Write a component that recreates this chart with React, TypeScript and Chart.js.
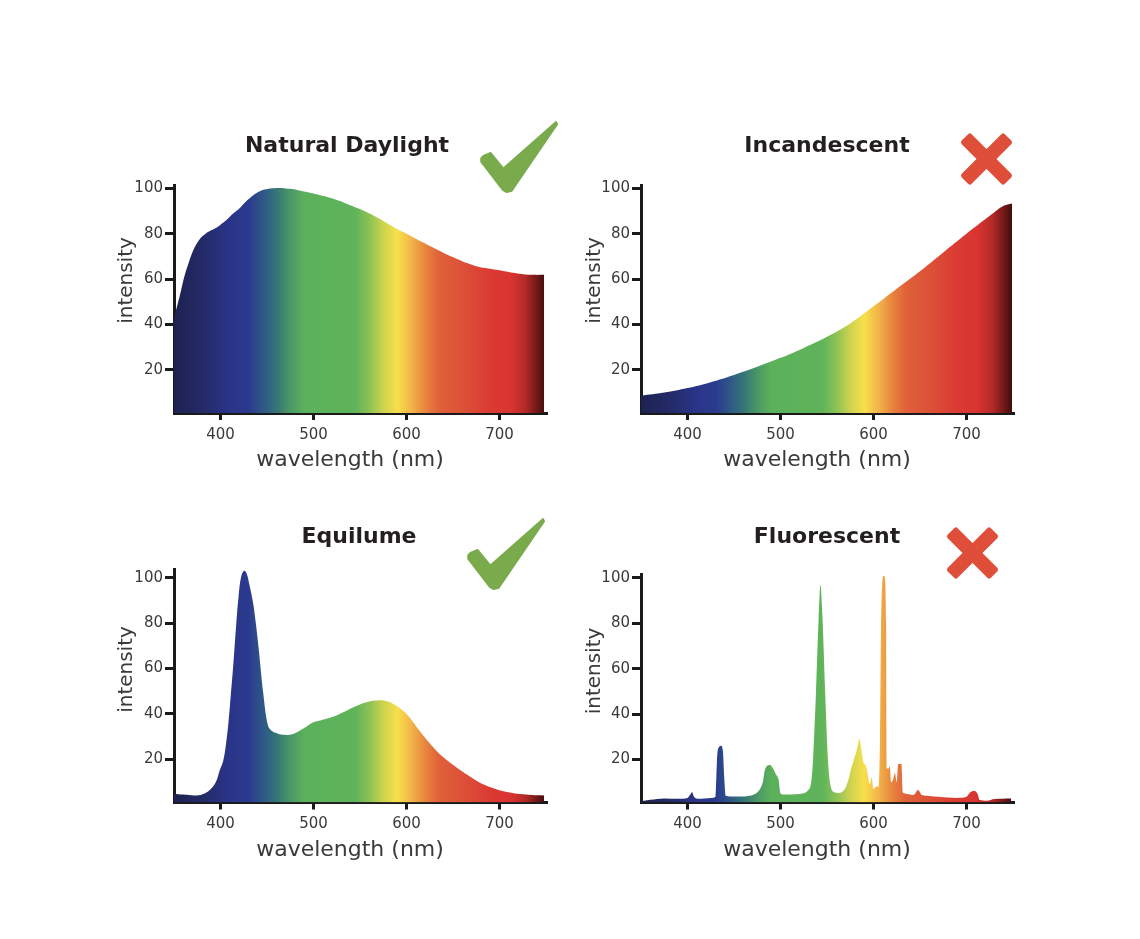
import React, { useEffect, useRef } from 'react';
import { Chart, registerables } from 'chart.js';

Chart.register(...registerables);

// ---------- tick labels ----------
const xTickValues = [400, 500, 600, 700];
const yTickValues = [20, 40, 60, 80, 100];

// ---------- Natural Daylight ----------
const daylightNm = [350, 352, 357, 361, 366, 371, 378, 384, 389, 395, 400, 407, 414, 420, 425, 431, 436, 441, 446, 452, 457, 463, 468, 477, 486, 500, 511, 522, 533, 543, 554, 565, 576, 586, 593, 600, 611, 622, 633, 644, 655, 665, 676, 688, 700, 710, 719, 728, 737, 748];
const daylightIntensity = [43, 46, 54, 61, 67.5, 73, 77.8, 80, 81.3, 82.5, 84, 86.3, 89, 91, 93.2, 95.5, 97.2, 98.5, 99.4, 99.9, 100.1, 100.2, 100.1, 99.7, 99, 97.8, 96.6, 95.3, 93.7, 92, 90.1, 87.9, 85.4, 83, 81.4, 80, 77.6, 75.3, 73, 70.8, 68.8, 67.1, 65.6, 64.7, 63.9, 63.1, 62.5, 62.1, 61.9, 61.9];

// ---------- Incandescent ----------
const incandescentNm = [350, 375, 400, 425, 450, 475, 500, 525, 550, 575, 600, 625, 650, 675, 700, 725, 740, 749];
const incandescentIntensity = [8.6, 10, 12, 14.6, 17.8, 21.4, 25.3, 29.7, 34.6, 40.5, 48, 55.8, 63.5, 71.8, 80, 87.9, 92.3, 93.4];

// ---------- Equilume ----------
const equilumeNm = [350, 360, 374, 383, 389, 395, 399, 403, 406, 408.5, 411, 414, 417, 419.5, 422, 425, 428, 431, 435, 438, 441, 446, 451, 455, 460, 467, 478, 490, 500, 510, 521, 532, 543, 557, 571, 580, 586, 593, 600, 607, 614, 621, 629, 637, 647, 656, 665, 674, 683, 692, 700, 711, 722, 735, 748];
const equilumeIntensity = [4.9, 4.5, 4.1, 5, 6.7, 10, 15, 19.5, 27, 36, 48, 63, 80, 92, 100, 103, 102, 97, 89, 80, 69, 49, 35, 32.6, 31.6, 30.8, 31.2, 33.8, 36.3, 37.5, 38.8, 40.8, 43, 45.2, 46, 45.5, 44.4, 42.5, 40, 36.5, 32.6, 29, 25.2, 21.8, 18.5, 15.8, 13.3, 10.9, 8.9, 7.5, 6.4, 5.4, 4.7, 4.3, 4.1];

// ---------- Fluorescent ----------
const fluorescentNm = [350, 360, 375, 390, 400, 403, 405, 407, 412, 425, 430, 431, 432, 434, 436, 438, 439.5, 441, 450, 465, 472, 478, 481, 483, 486, 489, 492, 495, 498, 500, 505, 520, 530, 533, 535, 538, 541, 543, 545, 548, 551, 554, 558, 563, 570, 573, 576, 579, 582, 585, 587, 589, 592, 594, 596, 598, 600, 603, 605.5, 607, 608, 609.5, 611, 612.5, 613.5, 614.5, 616, 617.5, 619, 621, 623, 625, 626.5, 630, 631.5, 636, 643, 648, 652, 660, 670, 690, 700, 704, 708, 712, 714, 722, 730, 748];
const fluorescentIntensity = [1.5, 2.2, 2.8, 2.6, 3, 4.5, 5.5, 3.5, 2.6, 3, 3.4, 12, 22, 25.5, 26, 24, 12, 4, 3.6, 3.9, 4.6, 7, 10, 15, 17.3, 17.5, 16, 13.5, 11, 5, 4.5, 4.8, 6.5, 10, 20, 48, 82, 97, 84, 50, 20, 8, 5.5, 5.2, 7.5, 11, 16, 20, 24, 29, 24, 19, 17, 13, 9, 12, 7, 8, 8, 30, 75, 98, 101, 99, 80, 16, 16, 17, 10, 11, 14, 10, 18, 18, 5.5, 4.8, 4.3, 6.5, 4.3, 3.9, 3.5, 3, 3.5, 5.5, 6.2, 4.8, 2.2, 1.8, 2.5, 2.8];

// ---------- spectrum fill (style) ----------
const spectrumStopNm = [350, 380, 410, 430, 445, 460, 475, 490, 545, 560, 575, 590, 605, 620, 635, 660, 690, 712, 728, 740, 750];
const spectrumStopColor = ['#1d2152', '#242a66', '#2a3589', '#2b3a8e', '#2e5688', '#357577', '#4b9766', '#5bb15b', '#5fb45a', '#8cc255', '#cdd34f', '#f8df4b', '#f1b648', '#e8853d', '#e0613a', '#dc5137', '#db3a33', '#d93431', '#b32a27', '#731818', '#3b0b0b'];

const CANVAS_W = 1140;
const CANVAS_H = 939;
const Y_AXIS_W = 40;
const X_AXIS_H = 40;
const AXIS_COLOR = '#1a1a1a';
const LABEL_COLOR = '#3a3a3a';

const panels = [
  {
    key: 'daylight', title: 'Natural Daylight', nm: daylightNm, values: daylightIntensity, monotone: false,
    yMin: 1, yMax: 101.5, area: { left: 174, right: 546, top: 185, bottom: 413 },
    titlePos: [347, 152], xTitlePos: [350, 466], yTitlePos: [132, 280.5], icon: 'check', iconPos: [481, 121],
  },
  {
    key: 'incandescent', title: 'Incandescent', nm: incandescentNm, values: incandescentIntensity, monotone: false,
    yMin: 1, yMax: 101.5, area: { left: 641, right: 1013, top: 185, bottom: 413 },
    titlePos: [827, 152], xTitlePos: [817, 466], yTitlePos: [600, 280.5], icon: 'cross', iconPos: [986.5, 159],
  },
  {
    key: 'equilume', title: 'Equilume', nm: equilumeNm, values: equilumeIntensity, monotone: false,
    yMin: 1, yMax: 103.5, area: { left: 174, right: 546, top: 569.8, bottom: 802.5 },
    titlePos: [359, 543], xTitlePos: [350, 856], yTitlePos: [132, 669.5], icon: 'check', iconPos: [468, 518],
  },
  {
    key: 'fluorescent', title: 'Fluorescent', nm: fluorescentNm, values: fluorescentIntensity, monotone: true,
    yMin: 1, yMax: 101.5, area: { left: 641, right: 1013, top: 574.5, bottom: 802.5 },
    titlePos: [827, 543], xTitlePos: [817, 856], yTitlePos: [600, 671], icon: 'cross', iconPos: [972.5, 553],
  },
];

const checkShape = [
  [0, 37.3], [2.3, 34.7], [9.7, 31.7], [22.3, 47.3], [75, 0.7], [76.3, 3.3],
  [30.7, 70], [25.7, 71.3], [21.7, 69], [0, 40.7],
];

function spectrumFill(context: any) {
  const chart = context.chart;
  const xs = chart.scales && chart.scales.x;
  if (!chart.chartArea || !xs) return '#5fb45a';
  const first = spectrumStopNm[0];
  const last = spectrumStopNm[spectrumStopNm.length - 1];
  const x0 = xs.getPixelForValue(first);
  const x1 = xs.getPixelForValue(last);
  const g = chart.ctx.createLinearGradient(x0, 0, x1, 0);
  spectrumStopNm.forEach((nm, i) => g.addColorStop((nm - first) / (last - first), spectrumStopColor[i]));
  return g;
}

function drawDecor(ctx: CanvasRenderingContext2D, panel: any) {
  ctx.save();
  ctx.textAlign = 'center';
  ctx.textBaseline = 'alphabetic';
  ctx.fillStyle = '#231f20';
  ctx.font = 'bold 22px "DejaVu Sans"';
  ctx.fillText(panel.title, panel.titlePos[0], panel.titlePos[1]);

  ctx.fillStyle = LABEL_COLOR;
  ctx.font = '22px "DejaVu Sans"';
  ctx.fillText('wavelength (nm)', panel.xTitlePos[0], panel.xTitlePos[1]);

  ctx.save();
  ctx.font = '20px "DejaVu Sans"';
  ctx.translate(panel.yTitlePos[0], panel.yTitlePos[1]);
  ctx.rotate(-Math.PI / 2);
  ctx.fillText('intensity', 0, 0);
  ctx.restore();

  if (panel.icon === 'check') {
    ctx.save();
    ctx.translate(panel.iconPos[0], panel.iconPos[1]);
    ctx.fillStyle = '#79aa4b';
    ctx.strokeStyle = '#79aa4b';
    ctx.lineJoin = 'round';
    ctx.lineWidth = 1.5;
    ctx.beginPath();
    checkShape.forEach((p, i) => (i === 0 ? ctx.moveTo(p[0], p[1]) : ctx.lineTo(p[0], p[1])));
    ctx.closePath();
    ctx.fill();
    ctx.stroke();
    ctx.restore();
  } else {
    ctx.save();
    ctx.translate(panel.iconPos[0], panel.iconPos[1]);
    ctx.fillStyle = '#df4e39';
    [Math.PI / 4, -Math.PI / 4].forEach((ang) => {
      ctx.save();
      ctx.rotate(ang);
      ctx.beginPath();
      if ((ctx as any).roundRect) (ctx as any).roundRect(-30.5, -7, 61, 14, 2.5);
      else ctx.rect(-30.5, -7, 61, 14);
      ctx.fill();
      ctx.restore();
    });
    ctx.restore();
  }
  ctx.restore();
}

function SpectrumPanel({ panel }: { panel: any }) {
  const ref = useRef<HTMLCanvasElement>(null);
  useEffect(() => {
    const canvas = ref.current;
    if (!canvas) return;
    const a = panel.area;
    const points = panel.nm.map((w: number, i: number) => ({ x: w, y: panel.values[i] }));
    const tickFont = { family: '"DejaVu Sans"', size: 15 };
    const chart = new Chart(canvas, {
      type: 'line',
      data: {
        datasets: [{
          data: points,
          fill: 'start',
          backgroundColor: spectrumFill,
          borderColor: 'rgba(0,0,0,0)',
          borderWidth: 0,
          pointRadius: 0,
          pointHoverRadius: 0,
          cubicInterpolationMode: panel.monotone ? 'monotone' : 'default',
          tension: 0.4,
        }],
      },
      options: {
        responsive: false,
        animation: false,
        events: [],
        layout: {
          padding: {
            left: a.left - Y_AXIS_W,
            right: CANVAS_W - a.right,
            top: a.top,
            bottom: CANVAS_H - a.bottom - X_AXIS_H,
          },
        },
        plugins: {
          legend: { display: false },
          tooltip: { enabled: false },
          title: { display: false },
        },
        scales: {
          x: {
            type: 'linear',
            min: 350,
            max: 750,
            afterBuildTicks: (s: any) => { s.ticks = xTickValues.map((v) => ({ value: v })); },
            afterFit: (s: any) => { s.height = X_AXIS_H; },
            ticks: { font: tickFont, color: LABEL_COLOR, padding: 6, maxRotation: 0, autoSkip: false },
            grid: { display: true, drawOnChartArea: false, drawTicks: true, tickLength: 7, tickWidth: 3, tickColor: AXIS_COLOR, color: AXIS_COLOR, lineWidth: 3 },
            border: { display: true, width: 3, color: AXIS_COLOR },
          },
          y: {
            type: 'linear',
            min: panel.yMin,
            max: panel.yMax,
            afterBuildTicks: (s: any) => { s.ticks = yTickValues.map((v) => ({ value: v })); },
            afterFit: (s: any) => { s.width = Y_AXIS_W; },
            ticks: { font: tickFont, color: LABEL_COLOR, padding: 2, autoSkip: false },
            grid: { display: true, drawOnChartArea: false, drawTicks: true, tickLength: 9, tickWidth: 3, tickColor: AXIS_COLOR, color: AXIS_COLOR, lineWidth: 3 },
            border: { display: true, width: 3, color: AXIS_COLOR },
          },
        },
      },
      plugins: [{ id: 'decor' + panel.key, afterDraw: (c: any) => drawDecor(c.ctx, panel) }],
    } as any);
    return () => chart.destroy();
  }, [panel]);
  return (
    <canvas
      ref={ref}
      width={CANVAS_W}
      height={CANVAS_H}
      style={{ position: 'absolute', left: 0, top: 0, width: CANVAS_W, height: CANVAS_H }}
    />
  );
}

export default function App() {
  return (
    <div style={{ position: 'absolute', left: 0, top: 0, width: CANVAS_W, height: CANVAS_H, background: '#ffffff', overflow: 'hidden' }}>
      {panels.map((p) => (
        <SpectrumPanel key={p.key} panel={p} />
      ))}
    </div>
  );
}
